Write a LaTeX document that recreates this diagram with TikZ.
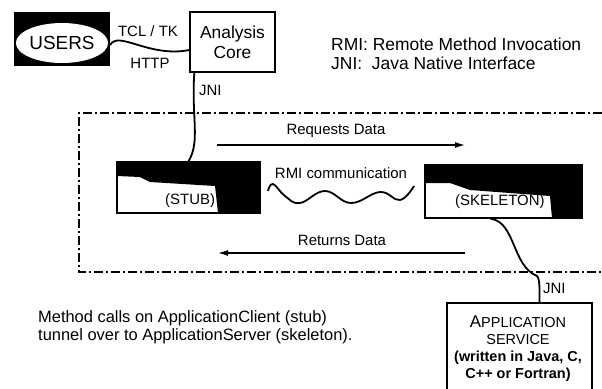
\documentclass[tikz,border=0pt]{standalone}
\usepackage{fontspec}
\setmainfont{Liberation Sans}
\usetikzlibrary{arrows.meta,shapes.geometric}
\tikzset{
  box/.style={draw,line width=1.4bp,inner sep=0pt},
  wire/.style={line width=1.8bp},
  flow/.style={line width=1.3bp,-{Latex[length=10bp,width=6bp]}},
  frame/.style={line width=1.4bp,dash pattern=on 9bp off 3bp on 2bp off 3bp},
  lbl/.style={inner sep=0pt,font=\fontsize{15}{17}\selectfont},
  big/.style={inner sep=0pt,font=\fontsize{17.5}{20}\selectfont},
}
\begin{document}
\begin{tikzpicture}[x=1bp,y=-1bp]
  \useasboundingbox (0,0) rectangle (602,388);
  % top row
  \node (users) [fill=black,minimum width=96bp,minimum height=54bp,inner sep=0pt] at (62,39) {};
  \node (userstxt) [ellipse,fill=white,minimum width=82bp,minimum height=40bp,inner sep=0pt,
    font=\fontsize{19}{20}\selectfont] at (62,43) {USERS};
  \node (core) [box,minimum width=85bp,minimum height=60bp,align=center,big] at (232.5,42) {Analysis\\Core};
  \node (tcl) [lbl] at (148,31) {TCL / TK};
  \node (http) [lbl] at (150,63) {HTTP};
  \node (rmi) [big,anchor=west] at (331,44) {RMI: Remote Method Invocation};
  \node (jni) [big,anchor=west] at (331,63) {JNI:\ \ Java Native Interface};
  % frame
  \draw[frame] (602,113) -- (79,113) -- (79,272) -- (602,272);
  % stub and skeleton
  \fill (117,162) -- (260,162) -- (260,213) -- (218,213) -- (215,186) -- (150,182) -- (140,177) -- (117,176) -- cycle;
  \node (stub) [box,minimum width=143bp,minimum height=51bp] at (188.5,187.5) {};
  \node (stubtxt) [lbl,anchor=west] at (165,201) {(STUB)};
  \fill (425,165) -- (582,165) -- (582,218) -- (552,218) -- (550,196) -- (470,190) -- (450,183) -- (425,183) -- cycle;
  \node (skel) [box,minimum width=157bp,minimum height=53bp] at (503.5,191.5) {};
  \node (skeltxt) [lbl,anchor=west] at (455,202) {(SKELETON)};
  \node (rmic) [lbl] at (341,173) {RMI communication};
  \node (req) [lbl] at (336,131) {Requests Data};
  \node (ret) [lbl] at (342,240) {Returns Data};
  \coordinate (reqa) at (217,145);
  \coordinate (reqb) at (465,145);
  \coordinate (reta) at (465,253);
  \coordinate (retb) at (218,253);
  % application
  \node (app) [box,minimum width=145bp,minimum height=92bp] at (519.5,349) {};
  \node (apptxt) [align=center,inner sep=0pt,font=\fontsize{14.5}{17}\selectfont] at (518,349)
    {{\fontsize{17}{17}\selectfont A}PPLICATION\\SERVICE\\\textbf{(written in Java, C,}\\\textbf{C++ or Fortran)}};
  \node (jni1) [lbl,anchor=west] at (199,90) {JNI};
  \node (jni2) [lbl,anchor=west] at (543,288) {JNI};
  \node (note) [anchor=west,align=left,inner sep=0pt,font=\fontsize{16.5}{18}\selectfont] at (38,327)
    {Method calls on ApplicationClient (stub)\\tunnel over to ApplicationServer (skeleton).};
  % links
  \draw[wire] ([yshift=-6bp]users.east) .. controls +(8,-15) and +(-40,8) .. ([yshift=-8bp]core.west);
  \draw[wire] ([xshift=5bp]core.south west) .. controls +(-3,45) and +(12,-20) .. (stub.north);
  \draw[wire] ([xshift=-13bp]skel.south) .. controls +(25,3) and +(-25,-10) .. (537,276)
    .. controls +(3,3) and +(0,-12) .. ([xshift=20bp]app.north);
  \draw[wire] plot[smooth,tension=0.7] coordinates {(268,191) (273,184) (285,196) (300,203) (325,191) (351,203) (380,192) (400,200) (414,186)};
  \draw[flow] (reqa) -- (reqb);
  \draw[flow] (reta) -- (retb);
\end{tikzpicture}
\end{document}
